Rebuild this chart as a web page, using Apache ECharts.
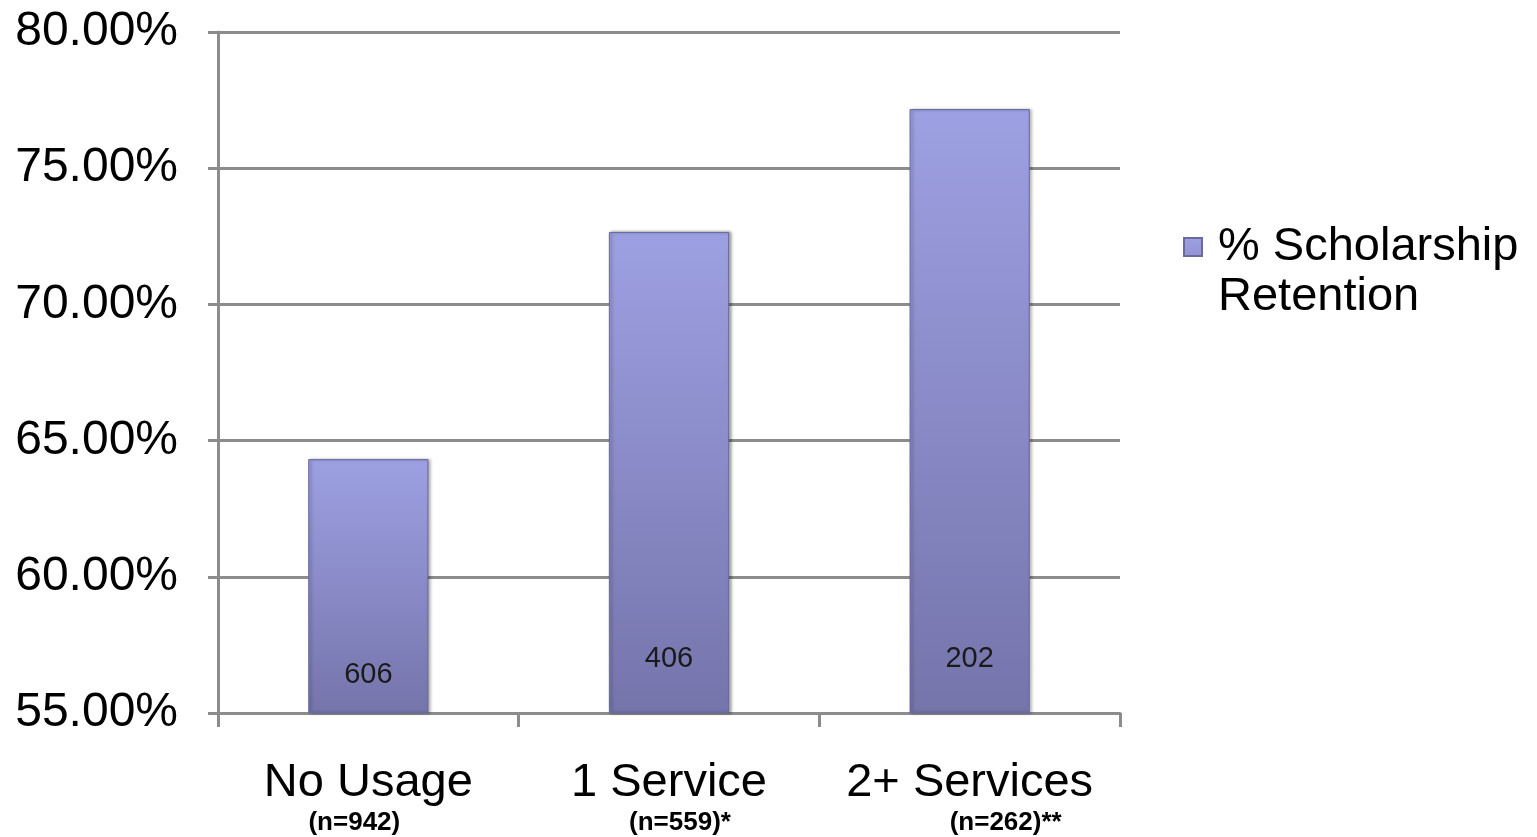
<!DOCTYPE html>
<html>
<head>
<meta charset="utf-8">
<script src="https://cdn.jsdelivr.net/npm/echarts@6/dist/echarts.min.js"></script>
<style>
  html, body { margin: 0; padding: 0; background: #fff; }
  #pic { width: 1537px; height: 837px; }
</style>
</head>
<body>
<div id="pic"></div>
<script>
var categories = ['No Usage', '1 Service', '2+ Services'];
var sampleSizes = ['(n=942)', '(n=559)*', '(n=262)**'];
var retention = [64.32, 72.66, 77.17];
var counts = [606, 406, 202];
var seriesName = '% Scholarship\nRetention';

// label offsets above the axis, one per bar
var labelDist = [24, 40, 40];

var chart = echarts.init(document.getElementById('pic'));
var fontFam = '"Liberation Sans", Arial, sans-serif';

var barData = [];
for (var i = 0; i < retention.length; i++) {
  barData.push({
    value: retention[i],
    label: { distance: labelDist[i] }
  });
}

// square sits on the first text line; the lone moveTo stretches the box down
var legendIcon = 'path://M0,0L18,0L18,18L0,18Z M0,68';

var option = {
  backgroundColor: '#fff',
  animation: false,
  grid: { left: 218, right: 417, top: 32, bottom: 124 },
  legend: {
    left: 1178,
    top: 217,
    orient: 'vertical',
    icon: legendIcon,
    itemWidth: 18,
    itemHeight: 68,
    textStyle: {
      fontFamily: fontFam, fontSize: 47, color: '#000', lineHeight: 50,
      padding: [0, 0, 0, 11]
    },
    data: [seriesName]
  },
  xAxis: {
    type: 'category',
    data: categories,
    axisLine: { lineStyle: { color: '#8c8c8c', width: 3 } },
    axisTick: { show: true, length: 14, lineStyle: { color: '#8c8c8c', width: 3 } },
    axisLabel: {
      margin: 45,
      interval: 0,
      formatter: function (v, idx) {
        return '{a|' + v + '}\n{s' + idx + '|' + sampleSizes[idx] + '}';
      },
      rich: {
        a: { fontFamily: fontFam, fontSize: 47, color: '#000', lineHeight: 50 },
        s0: { fontFamily: fontFam, fontSize: 26, fontWeight: 'bold', color: '#000', lineHeight: 30, padding: [0, 28, 0, 0] },
        s1: { fontFamily: fontFam, fontSize: 26, fontWeight: 'bold', color: '#000', lineHeight: 30, padding: [0, 0, 0, 22] },
        s2: { fontFamily: fontFam, fontSize: 26, fontWeight: 'bold', color: '#000', lineHeight: 30, padding: [0, 0, 0, 72] }
      }
    }
  },
  yAxis: {
    type: 'value',
    min: 55,
    max: 80,
    interval: 5,
    axisLine: { show: true, lineStyle: { color: '#8c8c8c', width: 3 } },
    axisTick: { show: true, length: 10, lineStyle: { color: '#8c8c8c', width: 3 } },
    splitLine: { lineStyle: { color: '#8c8c8c', width: 3 } },
    axisLabel: {
      margin: 40,
      fontFamily: fontFam,
      fontSize: 48,
      color: '#000',
      formatter: function (v) { return v.toFixed(2) + '%'; }
    }
  },
  series: [
    {
      name: seriesName,
      type: 'bar',
      barWidth: '40%',
      data: barData,
      itemStyle: {
        color: new echarts.graphic.LinearGradient(0, 0, 0, 1, [
          { offset: 0, color: '#9da0e2' },
          { offset: 1, color: '#7574ab' }
        ]),
        borderColor: '#6a6a9c',
        borderWidth: 1,
        shadowColor: 'rgba(0,0,0,0.35)',
        shadowBlur: 3,
        shadowOffsetX: 2
      },
      label: {
        show: true,
        position: 'insideBottom',
        fontFamily: fontFam,
        fontSize: 29,
        color: '#1a1a1a',
        formatter: function (p) { return counts[p.dataIndex]; }
      }
    }
  ]
};
chart.setOption(option);
</script>
</body>
</html>
